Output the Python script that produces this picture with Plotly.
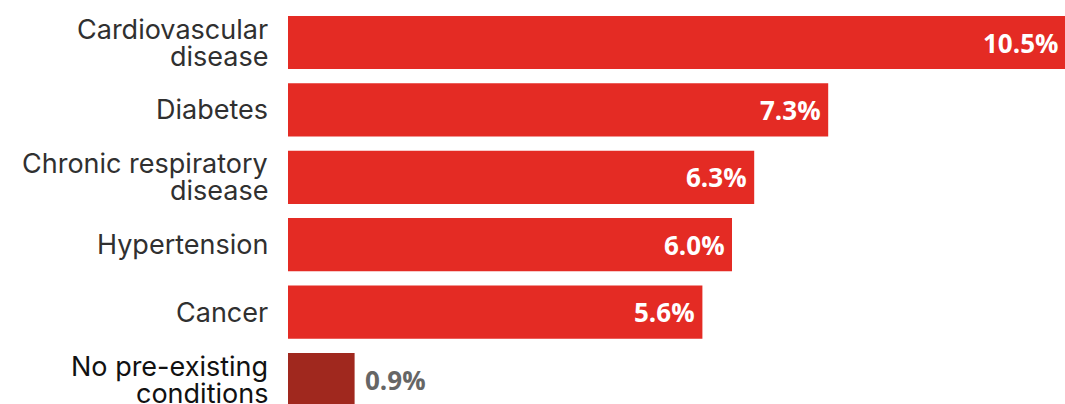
import plotly.graph_objects as go

# Share of deaths by pre-existing condition
categories = [
    "Cardiovascular<br>disease",
    "Diabetes",
    "Chronic respiratory<br>disease",
    "Hypertension",
    "Cancer",
    "No pre-existing<br>conditions",
]
values = [10.5, 7.3, 6.3, 6.0, 5.6, 0.9]
value_labels = ["10.5%", "7.3%", "6.3%", "6.0%", "5.6%", "0.9%"]

RED = "#E42B24"
DARK_RED = "#A0281E"
bar_colors = [RED, RED, RED, RED, RED, DARK_RED]

positions = list(range(len(categories)))

fig = go.Figure(
    go.Bar(
        x=values,
        y=positions,
        orientation="h",
        marker=dict(color=bar_colors, line=dict(width=0)),
        width=0.79,
        hoverinfo="skip",
    )
)

annotations = []

# Category labels, one annotation per line for a tight line height
LINE_STEP = 27
for i, cat in enumerate(categories):
    lines = cat.split("<br>")
    n = len(lines)
    for k, line in enumerate(lines):
        shift = ((n - 1) / 2 - k) * LINE_STEP
        annotations.append(dict(
            x=0, xref="paper", xanchor="right", xshift=-18,
            y=i, yref="y", yanchor="middle", yshift=shift,
            text=line, showarrow=False,
            font=dict(family="Inter, Roboto, sans-serif", size=27,
                      color="#111111" if i == len(categories) - 1 else "#303030"),
        ))

# Value labels: inside the bar end in white, outside for the short bar
for i, (v, lab) in enumerate(zip(values, value_labels)):
    inside = v > 2
    annotations.append(dict(
        x=v, xref="x", y=i, yref="y",
        xanchor="right" if inside else "left",
        xshift=-5 if inside else 8,
        yanchor="middle",
        text=lab, showarrow=False,
        font=dict(family="Open Sans, sans-serif", size=26,
                  color="white" if inside else "#666666",
                  weight="bold"),
    ))

# Category spacing of ~67.4 px with the first bar centred at y≈42.5
band = 67.4
top = -42.5 / band
bottom = top + 404 / band

fig.update_layout(
    width=1065,
    height=404,
    margin=dict(l=288, r=0, t=0, b=0),
    paper_bgcolor="white",
    plot_bgcolor="white",
    showlegend=False,
    annotations=annotations,
    xaxis=dict(range=[0, 10.5], visible=False, fixedrange=True),
    yaxis=dict(range=[bottom, top], visible=False, fixedrange=True),
)

fig.write_html("out.html", config={"displayModeBar": False})
